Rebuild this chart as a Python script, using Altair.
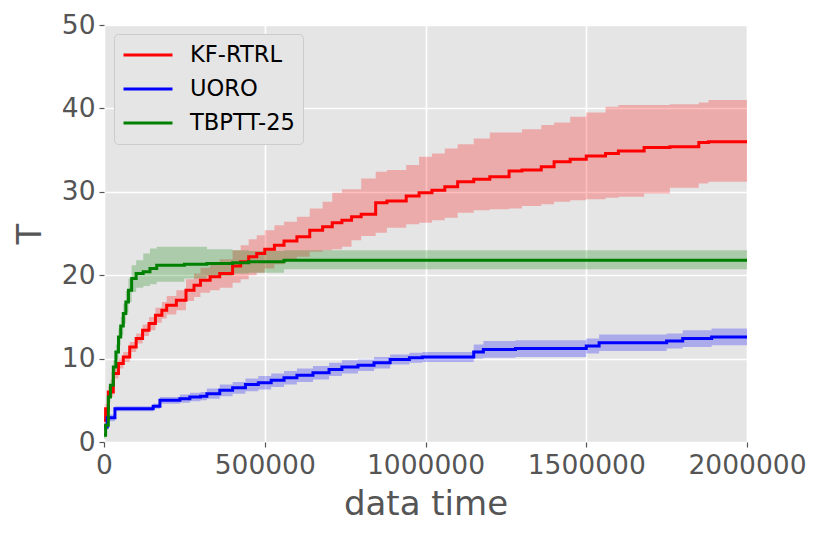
import altair as alt
import pandas as pd

# KF-RTRL
kf_x = [0, 5000, 13500, 29000, 45000, 60000, 80000, 100000, 120000, 140000, 160000, 180000, 195000,
        225000, 255000, 280000, 300000, 330000, 360000, 400000, 425000, 450000, 475000, 500000, 530000, 560000,
        600000, 640000, 680000, 710000, 740000, 770000, 800000, 845000, 880000, 940000, 980000, 1020000,
        1060000, 1100000, 1150000, 1200000, 1260000, 1300000, 1360000, 1400000, 1450000, 1500000, 1560000,
        1600000, 1680000, 1760000, 1850000, 1880000, 2000000]
kf_mean = [2.6, 4.0, 6.0, 8.2, 9.4, 10.2, 11.4, 12.4, 13.4, 14.2, 15.2, 15.8, 16.4,
           17.0, 18.2, 18.8, 19.4, 19.8, 20.2, 21.1, 21.6, 22.2, 22.6, 23.1, 23.6, 24.1,
           24.6, 25.4, 25.8, 26.3, 26.6, 27.0, 27.3, 28.7, 28.9, 29.5, 29.9, 30.2,
           30.6, 31.2, 31.5, 31.8, 32.5, 32.6, 33.0, 33.6, 33.9, 34.3, 34.6,
           34.9, 35.3, 35.4, 35.9, 36.0, 36.0]
kf_lo = [2.0, 3.4, 5.4, 7.6, 8.8, 9.6, 10.8, 11.8, 12.7, 13.4, 14.3, 14.8, 15.3,
         15.8, 16.9, 17.4, 17.9, 18.2, 18.5, 19.1, 19.5, 20.0, 20.3, 20.8, 21.3, 21.7,
         22.2, 22.8, 23.0, 23.1, 23.4, 24.2, 24.7, 25.1, 25.7, 26.1, 26.3, 26.6,
         26.9, 27.5, 27.8, 27.9, 28.0, 28.3, 28.5, 28.8, 29.0, 29.1, 29.3,
         29.4, 29.8, 30.5, 31.0, 31.2, 31.2]
kf_hi = [3.2, 4.6, 6.6, 8.8, 10.0, 10.8, 12.0, 13.0, 14.1, 15.0, 16.1, 16.8, 17.5,
         18.2, 19.5, 20.2, 20.9, 21.4, 21.9, 23.0, 23.6, 24.3, 24.8, 25.4, 26.0, 26.4,
         27.0, 28.0, 28.8, 29.9, 30.3, 30.3, 31.6, 32.4, 32.6, 33.2, 34.2, 34.6,
         35.2, 35.7, 36.4, 37.1, 37.1, 37.5, 38.0, 38.3, 39.0, 39.5, 40.2,
         40.4, 40.4, 40.5, 40.7, 41.0, 41.0]

# UORO
uo_x = [0, 10000, 34000, 153000, 174000, 236000, 267000, 300000, 320000, 360000, 400000, 440000, 480000,
        520000, 560000, 600000, 650000, 700000, 740000, 790000, 840000, 890000, 950000, 990000, 1150000,
        1180000, 1280000, 1500000, 1540000, 1750000, 1800000, 1890000, 2000000]
uo_mean = [1.8, 2.9, 4.0, 4.3, 5.0, 5.2, 5.4, 5.5, 5.8, 6.2, 6.5, 6.9, 7.1,
           7.4, 7.7, 8.0, 8.3, 8.7, 9.0, 9.2, 9.5, 9.9, 10.1, 10.2, 10.8,
           11.1, 11.2, 11.5, 11.9, 12.1, 12.4, 12.6, 12.6]
uo_lo = [1.4, 2.5, 3.7, 4.0, 4.6, 4.7, 4.9, 5.0, 5.2, 5.5, 5.8, 6.1, 6.3,
         6.6, 6.9, 7.2, 7.5, 7.9, 8.2, 8.5, 8.8, 9.3, 9.5, 9.6, 10.0,
         10.1, 10.2, 10.6, 10.9, 11.2, 11.4, 11.6, 11.6]
uo_hi = [2.2, 3.3, 4.3, 4.6, 5.4, 5.7, 5.9, 6.0, 6.4, 6.9, 7.2, 7.6, 7.9,
         8.2, 8.5, 8.8, 9.1, 9.5, 9.8, 9.9, 10.2, 10.5, 10.7, 10.8, 11.7,
         12.1, 12.2, 12.4, 12.9, 13.0, 13.4, 13.6, 13.6]

# TBPTT-25
tb_x = [0, 5000, 13500, 20000, 29000, 37000, 45000, 52000, 60000, 68000, 76000, 86000, 100000,
        122000, 143000, 164000, 250000, 320000, 400000, 450000, 560000, 2000000]
tb_mean = [0.8, 2.0, 5.4, 6.8, 9.0, 10.8, 12.6, 13.9, 15.4, 16.8, 18.2, 19.6, 20.2,
           20.4, 20.8, 21.2, 21.3, 21.4, 21.5, 21.6, 21.8, 21.8]
tb_lo = [0.4, 1.5, 4.8, 6.1, 8.2, 9.9, 11.6, 12.8, 14.2, 15.5, 16.8, 18.0, 18.5,
         18.7, 18.9, 19.2, 19.6, 19.9, 20.2, 20.3, 20.7, 20.7]
tb_hi = [1.2, 2.5, 6.0, 7.5, 9.8, 11.7, 13.6, 15.0, 16.6, 18.1, 19.6, 21.2, 21.8,
         22.6, 23.2, 23.4, 23.4, 23.1, 23.0, 22.9, 23.0, 23.0]

series_names = ["KF-RTRL", "UORO", "TBPTT-25"]
series_colors = ["#FF0000", "#0000FF", "#008000"]
x_ticks = [0, 500000, 1000000, 1500000, 2000000]
y_ticks = [0, 10, 20, 30, 40, 50]

frames = []
for name, xs, m, lo, hi in [("KF-RTRL", kf_x, kf_mean, kf_lo, kf_hi),
                             ("UORO", uo_x, uo_mean, uo_lo, uo_hi),
                             ("TBPTT-25", tb_x, tb_mean, tb_lo, tb_hi)]:
    frames.append(pd.DataFrame({"series": name, "t": xs, "mean": m, "lo": lo, "hi": hi}))
df = pd.concat(frames, ignore_index=True)

color_scale = alt.Scale(domain=series_names, range=series_colors)
legend = alt.Legend(title=None, orient="none", legendX=10, legendY=9)
color_enc = alt.Color("series:N", scale=color_scale, sort=series_names, legend=legend)
x_enc = alt.X("t:Q", scale=alt.Scale(domain=[0, 2000000], nice=False),
              axis=alt.Axis(values=x_ticks, format="d", title="data time"))
y_scale = alt.Scale(domain=[0, 50], nice=False)

base = alt.Chart(df)
layers = []
for name in series_names:
    sub = base.transform_filter(alt.datum.series == name)
    layers.append(sub.mark_area(interpolate="step-after", opacity=0.25).encode(
        x=x_enc,
        y=alt.Y("lo:Q", scale=y_scale, axis=alt.Axis(values=y_ticks, title="T")),
        y2="hi:Q",
        color=color_enc,
    ))
for name in series_names:
    sub = base.transform_filter(alt.datum.series == name)
    layers.append(sub.mark_line(interpolate="step-after", strokeWidth=3).encode(
        x=x_enc,
        y=alt.Y("mean:Q", scale=y_scale),
        color=color_enc,
    ))

chart = alt.layer(*layers).properties(
    width=643, height=417,
    padding={"left": 96, "top": 17, "right": 66, "bottom": 88},
    autosize="none",
).configure(
    font="DejaVu Sans",
    background="white",
).configure_view(
    fill="#E5E5E5", stroke=None,
).configure_axis(
    grid=True, gridColor="white", gridWidth=1.6, domain=False,
    tickColor="#555555", tickSize=5, tickWidth=1.2,
    labelColor="#555555", labelFontSize=26.5, labelPadding=4,
    titleColor="#555555", titleFontSize=34, titleFontWeight="normal",
    labelFont="DejaVu Sans", titleFont="DejaVu Sans",
).configure_axisX(
    titlePadding=9, labelPadding=5, labelFlush=False,
).configure_axisY(
    titlePadding=14, labelFlush=False,
).configure_legend(
    symbolType="stroke", symbolStrokeWidth=3, symbolSize=2400, symbolOpacity=1,
    labelFontSize=22.6, labelColor="#000000", labelFont="DejaVu Sans",
    fillColor="#E5E5E5", strokeColor="#CCCCCC", cornerRadius=4, padding=8,
    rowPadding=8, labelOffset=16, clipHeight=26,
)

chart.save("out.html", embed_options={"renderer": "svg", "actions": False})
